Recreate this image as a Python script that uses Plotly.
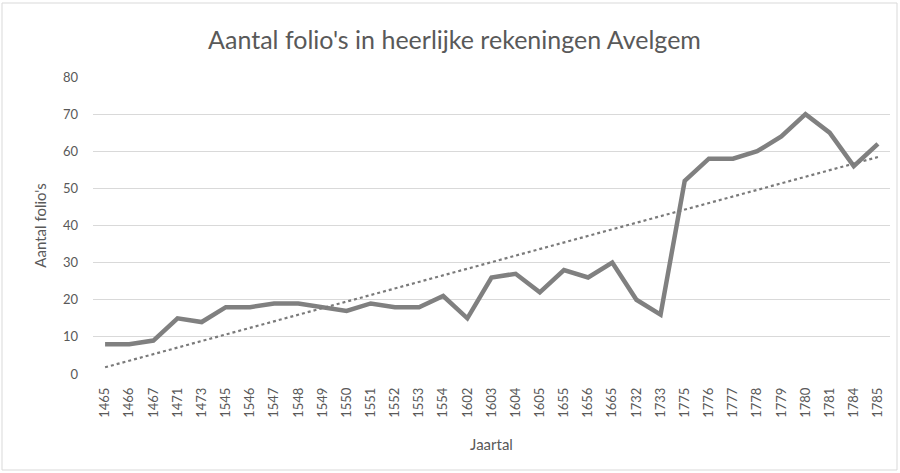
import numpy as np
import plotly.graph_objects as go

years = ["1465", "1466", "1467", "1471", "1473", "1545", "1546", "1547", "1548", "1549",
         "1550", "1551", "1552", "1553", "1554", "1602", "1603", "1604", "1605", "1655",
         "1656", "1665", "1732", "1733", "1775", "1776", "1777", "1778", "1779", "1780",
         "1781", "1784", "1785"]
folios = [8, 8, 9, 15, 14, 18, 18, 19, 19, 18,
          17, 19, 18, 18, 21, 15, 26, 27, 22, 28,
          26, 30, 20, 16, 52, 58, 58, 60, 64, 70,
          65, 56, 62]
y_ticks = [0, 10, 20, 30, 40, 50, 60, 70, 80]

# Linear trendline (least squares, as in the spreadsheet)
idx = np.arange(1, len(folios) + 1)
slope, intercept = np.polyfit(idx, folios, 1)
trend = slope * idx + intercept

W, H = 900, 473
L, R, T, B = 93, 10, 77, 99

fig = go.Figure()
fig.add_trace(go.Scatter(x=years, y=folios, mode="lines",
                         line=dict(color="#808080", width=4.5), showlegend=False))
fig.add_trace(go.Scatter(x=years, y=trend, mode="lines",
                         line=dict(color="#7a7a7a", width=2.2, dash="dot"), showlegend=False))

pw = W - L - R
ph = H - T - B
def px_x(p): return (p - L) / pw
def px_y(p): return 1 - (p - T) / ph

fig.add_shape(type="rect", xref="paper", yref="paper",
              x0=px_x(2), x1=px_x(897), y0=px_y(470), y1=px_y(3),
              line=dict(color="#d9d9d9", width=1), fillcolor="rgba(0,0,0,0)", layer="below")

font_family = "Lato, 'Open Sans', sans-serif"
fig.update_layout(
    width=W, height=H,
    margin=dict(l=L, r=R, t=T, b=B, autoexpand=False),
    paper_bgcolor="white", plot_bgcolor="white",
    font=dict(family=font_family, color="#595959", size=12),
    title=dict(text="Aantal folio's in heerlijke rekeningen Avelgem",
               x=0.505, xanchor="center", y=1 - 40 / H, yanchor="middle",
               font=dict(size=25, color="#595959", family=font_family)),
    xaxis=dict(type="category", range=[-0.5, len(years) - 0.5], tickangle=-90,
               showgrid=False, zeroline=False, automargin=False,
               showline=False, ticks="", ticklabelstandoff=10,
               tickfont=dict(size=13, color="#595959"),
               title=dict(text="Jaartal", font=dict(size=15, color="#595959"), standoff=22)),
    yaxis=dict(range=[0, 80], tickvals=y_ticks, showgrid=True, gridcolor="#d9d9d9",
               gridwidth=1, zeroline=False, showline=False, ticks="", automargin=False,
               ticklabelstandoff=14,
               tickfont=dict(size=13, color="#595959"),
               title=dict(text="Aantal folio's", font=dict(size=15, color="#595959"), standoff=12)),
)

fig.write_html("out.html", config={"displayModeBar": False},
               post_script="document.body.style.margin='0';document.body.style.padding='0';document.body.style.overflow='hidden';")
